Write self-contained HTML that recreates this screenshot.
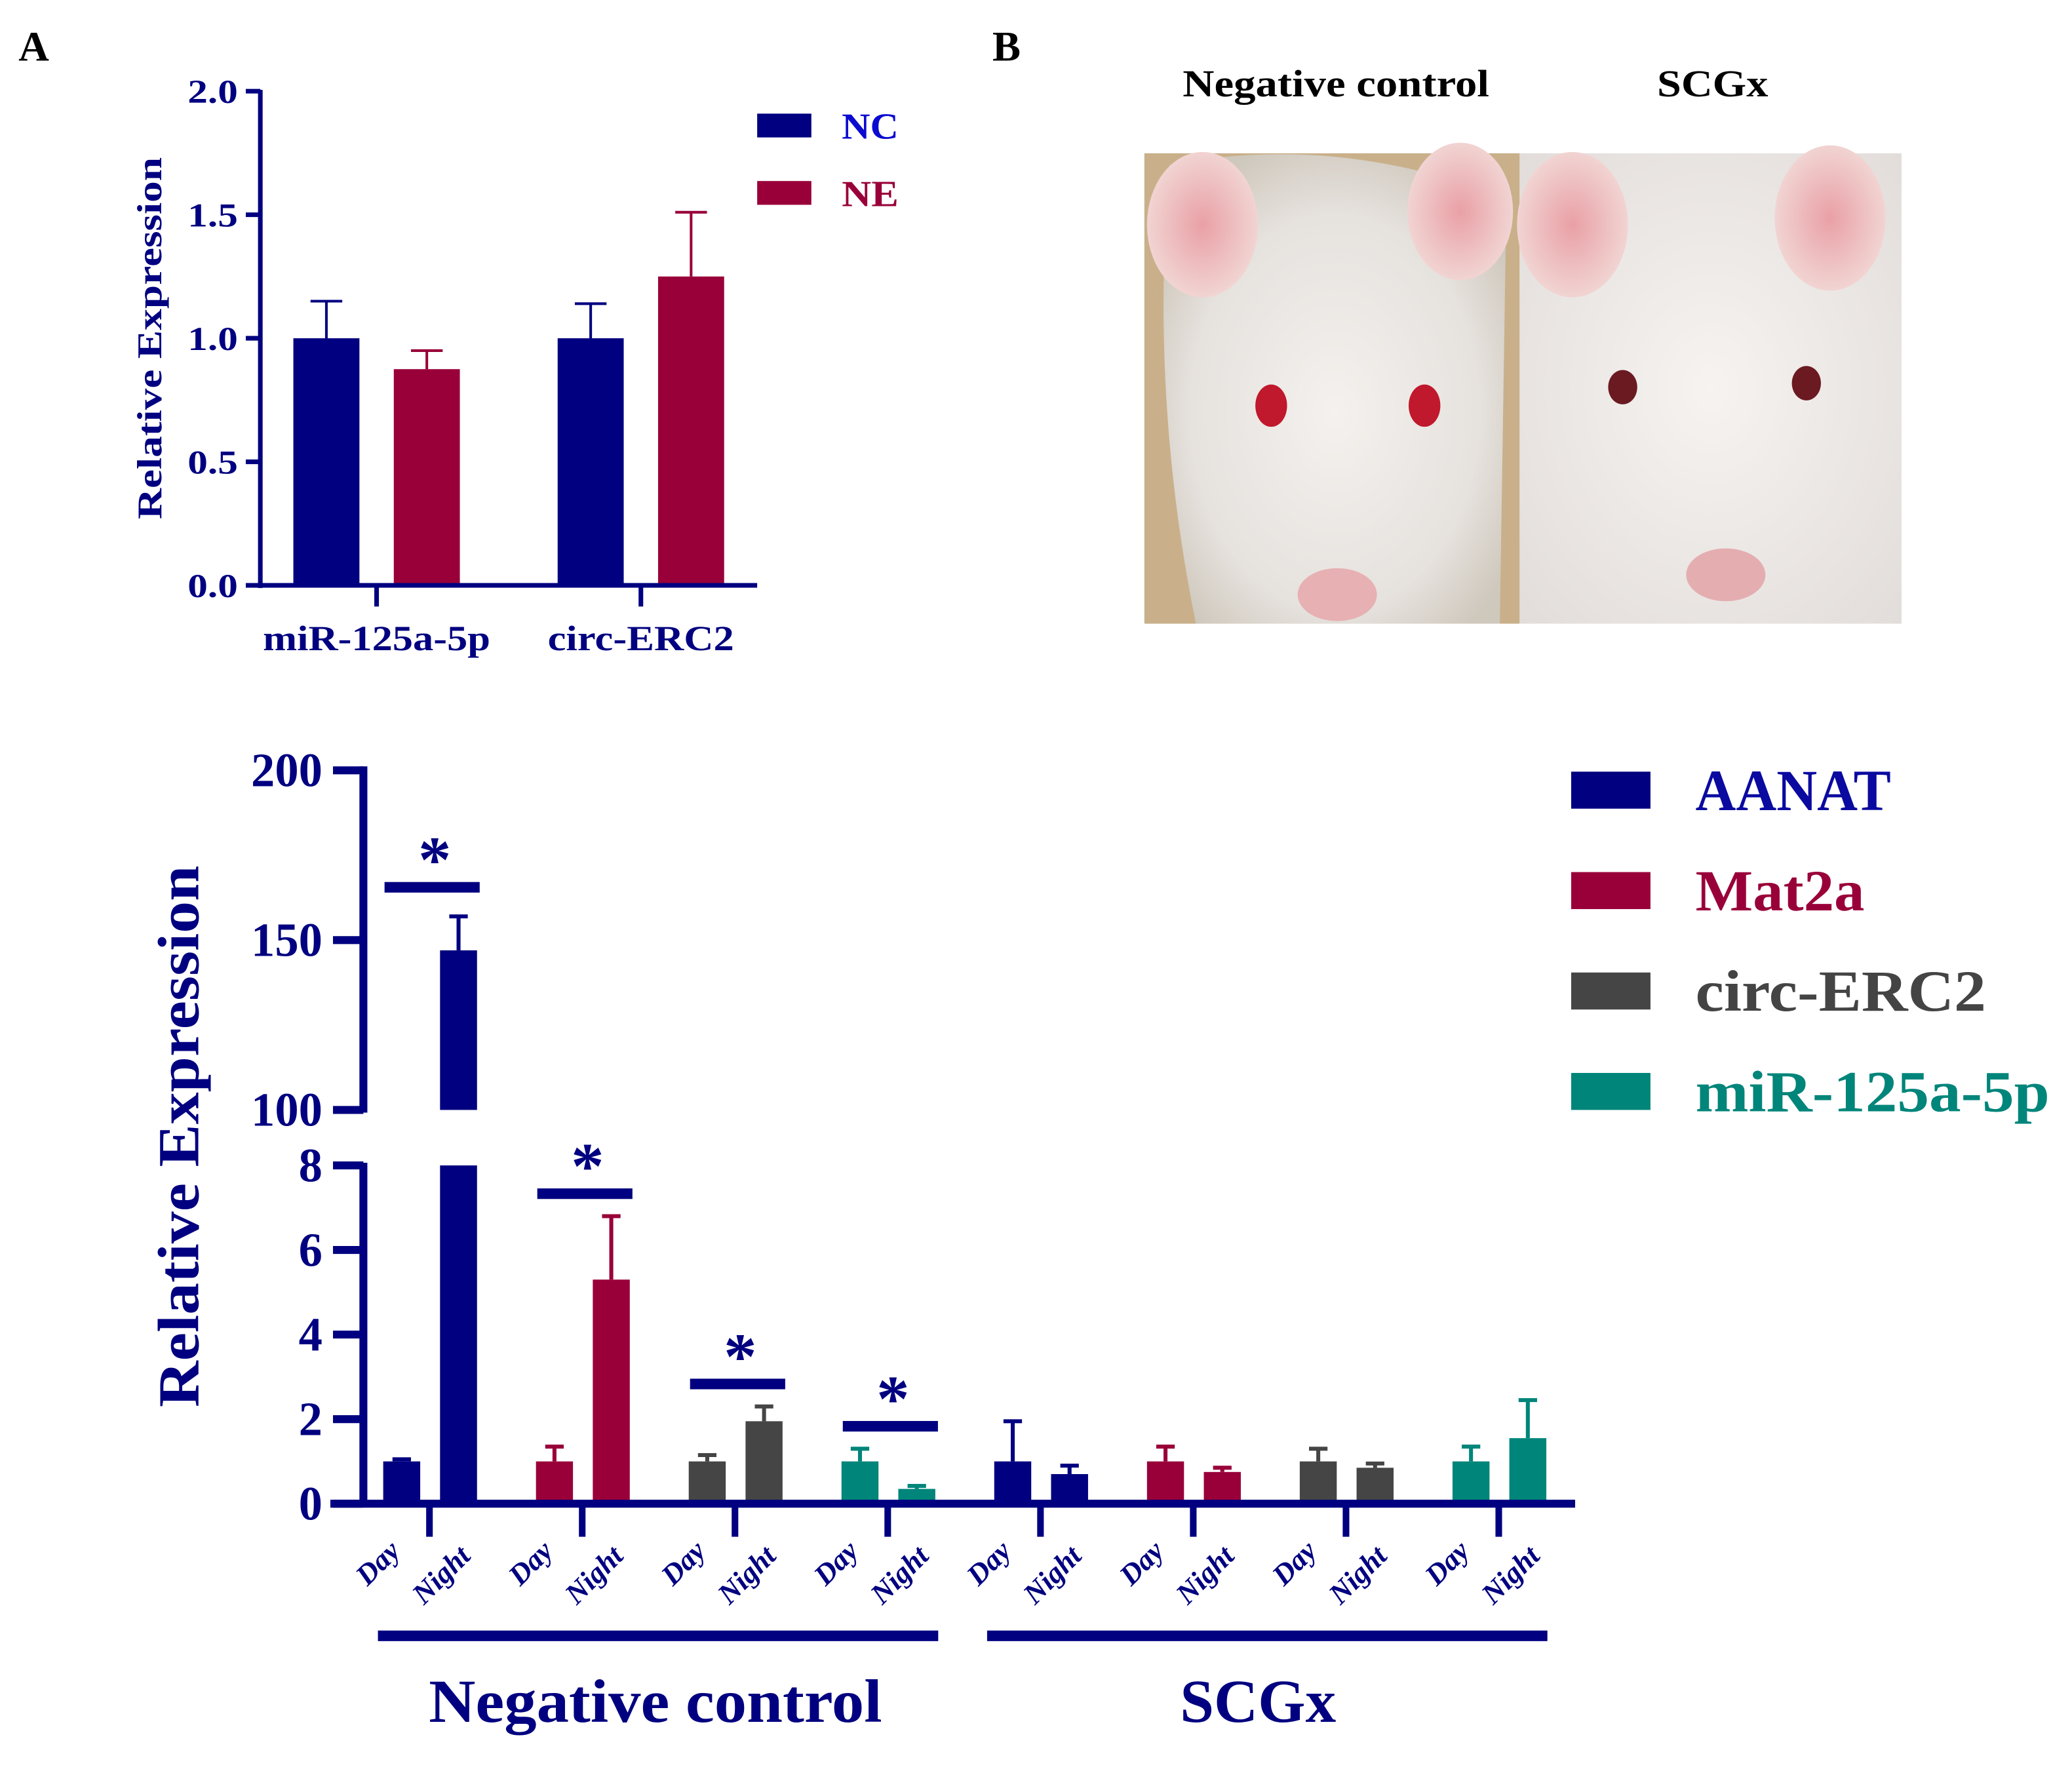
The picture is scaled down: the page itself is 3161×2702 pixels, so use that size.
<!DOCTYPE html>
<html><head><meta charset="utf-8"><style>
html,body{margin:0;padding:0;background:#fff;}
svg{display:block;font-family:"Liberation Serif",serif;font-weight:bold;}
</style></head><body>
<svg width="3161" height="2702" viewBox="0 0 1568 1340.3" preserveAspectRatio="none" xmlns="http://www.w3.org/2000/svg">
<defs>
<radialGradient id="face1" cx="0.5" cy="0.55" r="0.6"><stop offset="0" stop-color="#f4f1ee"/><stop offset="0.7" stop-color="#e6e2de"/><stop offset="1" stop-color="#cfc8bd"/></radialGradient>
<radialGradient id="face2" cx="0.5" cy="0.5" r="0.7"><stop offset="0" stop-color="#f6f3f1"/><stop offset="1" stop-color="#e2ddda"/></radialGradient>
<radialGradient id="ear" cx="0.5" cy="0.5" r="0.5"><stop offset="0" stop-color="#e9a0a6"/><stop offset="1" stop-color="#f1d4d2"/></radialGradient>
</defs>
<text x="14" y="46" font-size="32" fill="#000">A</text>
<text x="751" y="46" font-size="32" fill="#000">B</text>
<g id="chartA"></g>
<g>
<text x="1011" y="73" font-size="29" text-anchor="middle" fill="#000" textLength="232" lengthAdjust="spacingAndGlyphs">Negative control</text>
<text x="1296" y="73" font-size="29" text-anchor="middle" fill="#000" textLength="84" lengthAdjust="spacingAndGlyphs">SCGx</text>
<g>
<rect x="866" y="116" width="284" height="356" fill="#c9b08a"/>
<path d="M885 125 Q1010 100 1140 150 L1135 472 L905 472 Q870 300 885 125Z" fill="url(#face1)"/>
<ellipse cx="910" cy="170" rx="42" ry="55" fill="url(#ear)"/>
<ellipse cx="1105" cy="160" rx="40" ry="52" fill="url(#ear)"/>
<ellipse cx="962" cy="307" rx="12" ry="16" fill="#c0182c"/>
<ellipse cx="1078" cy="307" rx="12" ry="16" fill="#c0182c"/>
<ellipse cx="1012" cy="450" rx="30" ry="20" fill="#e7b0b2"/>
</g>
<g>
<rect x="1150" y="116" width="289" height="356" fill="url(#face2)"/>
<ellipse cx="1190" cy="170" rx="42" ry="55" fill="url(#ear)"/>
<ellipse cx="1385" cy="165" rx="42" ry="55" fill="url(#ear)"/>
<ellipse cx="1228" cy="293" rx="11" ry="13" fill="#6a1a20"/>
<ellipse cx="1367" cy="290" rx="11" ry="13" fill="#6a1a20"/>
<ellipse cx="1306" cy="435" rx="30" ry="20" fill="#e4aeb0"/>
</g>
</g>
<g id="chartB"></g>
</svg>
<script>
const NS="http://www.w3.org/2000/svg";
function mk(parent,tag,attrs,text){const e=document.createElementNS(NS,tag);for(const k in attrs)e.setAttribute(k,attrs[k]);if(text!==undefined)e.textContent=text;parent.appendChild(e);return e;}
const NAVY="#000080",RED="#990039",GRAY="#454545",TEAL="#00857a";

// ---- Chart A data ----
const aCategories=["miR-125a-5p","circ-ERC2"];
const aSeries=["NC","NE"];
const aNC=[1.0,1.0];
const aNCerr=[0.15,0.14];
const aNE=[0.875,1.25];
const aNEerr=[0.075,0.26];
const aTicks=["0.0","0.5","1.0","1.5","2.0"];

const A=document.getElementById("chartA");
const ayA=v=>443-v*187;
const agx=i=>285+i*200;
[[aNC,aNCerr,NAVY,-38],[aNE,aNEerr,RED,38]].forEach(([vals,errs,col,off],s)=>{
 vals.forEach((v,i)=>{
  const cx=agx(i)+off;
  const r=mk(A,"rect",{x:cx-25,y:ayA(v),width:50,height:443-ayA(v),fill:col});
  
  
  const e=mk(A,"path",{d:`M${cx} ${ayA(v)}V${ayA(v+errs[i])}M${cx-12} ${ayA(v+errs[i])}H${cx+12}`,stroke:col,"stroke-width":2,fill:"none"});
  
  
 });
});
mk(A,"path",{d:"M197 68V445M195 443H573",stroke:NAVY,"stroke-width":3.5,fill:"none"});
aTicks.forEach(t=>{const v=parseFloat(t);const y=ayA(v);
 mk(A,"line",{x1:186,x2:197,y1:y,y2:y,stroke:NAVY,"stroke-width":3.5});
 const tx=mk(A,"text",{x:180,y:y+9,"font-size":25,"text-anchor":"end",fill:NAVY,textLength:38,lengthAdjust:"spacingAndGlyphs"},t);
 
 
});
const aLabLen=[172,141];
aCategories.forEach((c,i)=>{
 mk(A,"line",{x1:agx(i),x2:agx(i),y1:443,y2:459,stroke:NAVY,"stroke-width":3.5});
 const tx=mk(A,"text",{x:agx(i),y:492,"font-size":27,"text-anchor":"middle",fill:NAVY,textLength:aLabLen[i],lengthAdjust:"spacingAndGlyphs"},c);
 
 
});
const ta=mk(A,"text",{x:0,y:0,"font-size":26,"text-anchor":"middle",fill:NAVY,transform:"translate(122,256) rotate(-90)",textLength:274,lengthAdjust:"spacingAndGlyphs"},"Relative Expression");


[[NAVY,"NC","#0a0ad0",95],[RED,"NE",RED,146]].forEach(([c,l,tc,y])=>{
 const r=mk(A,"rect",{x:573,y:y-9,width:41,height:18,fill:c});
 
 
 const t=mk(A,"text",{x:637,y:y+10,"font-size":28,fill:tc,textLength:43,lengthAdjust:"spacingAndGlyphs"},l);
 
 
});

// ---- Chart B data ----
const bGenes=["AANAT","Mat2a","circ-ERC2","miR-125a-5p"];
const bGroups=["Negative control","SCGx"];
const bDay=[1.0,1.0,1.0,1.0, 1.0,1.0,1.0,1.0];
const bDayErr=[0.05,0.35,0.15,0.3, 0.95,0.35,0.3,0.35];
const bNight=[147,5.3,1.95,0.35, 0.7,0.75,0.85,1.55];
const bNightErr=[10,1.5,0.35,0.07, 0.2,0.1,0.1,0.9];
const bSig=[true,true,true,true,false,false,false,false];
const bTicksLow=[0,2,4,6,8];
const bTicksHigh=[100,150,200];

const B=document.getElementById("chartB");
const colors=[NAVY,RED,GRAY,TEAL];
const legendText=["#0a0aa0",RED,"#444",TEAL];
const legendLen=[148,128,220,268];
function yB(v){ if(v<=8) return 1138-v*32; return 840-(v-100)*2.57; }
const gx=i=>325+i*115.6;
for(let i=0;i<8;i++){
 const col=colors[i%4];
 const dx=gx(i)-21, nx=gx(i)+22;
 const d=mk(B,"rect",{x:dx-14,y:yB(bDay[i]),width:28,height:1138-yB(bDay[i]),fill:col});
 
 
 const de=bDay[i]+bDayErr[i];
 mk(B,"path",{d:`M${dx} ${yB(bDay[i])}V${yB(de)}M${dx-7} ${yB(de)}H${dx+7}`,stroke:col,"stroke-width":3,fill:"none"});
 const nv=bNight[i];
 if(nv>8){
  const n1=mk(B,"rect",{x:nx-14,y:yB(8),width:28,height:1138-yB(8),fill:col});
  
  
  const n2=mk(B,"rect",{x:nx-14,y:yB(nv),width:28,height:840-yB(nv),fill:col});
  
  
 } else {
  const n=mk(B,"rect",{x:nx-14,y:yB(nv),width:28,height:1138-yB(nv),fill:col});
  
  
 }
 const ne=nv+bNightErr[i];
 mk(B,"path",{d:`M${nx} ${yB(nv)}V${yB(ne)}M${nx-7} ${yB(ne)}H${nx+7}`,stroke:col,"stroke-width":3,fill:"none"});
 if(bSig[i]){
  const top=Math.max(bDay[i]+bDayErr[i],ne);
  const ys=yB(top)-(i===0?22:17);
  const s=mk(B,"rect",{x:gx(i)-34,y:ys-4,width:72,height:8,fill:NAVY});
  
  
  const st=mk(B,"text",{x:gx(i)+4,y:ys-4,"font-size":50,"text-anchor":"middle",fill:NAVY},"*");
  
  
 }
 mk(B,"line",{x1:gx(i),x2:gx(i),y1:1138,y2:1163,stroke:NAVY,"stroke-width":5});
 const t1=mk(B,"text",{x:0,y:0,"font-size":22,"font-style":"italic","text-anchor":"middle",fill:NAVY,transform:`translate(${gx(i)-34},${1188}) rotate(-45)`},"Day");
 
 
 const t2=mk(B,"text",{x:0,y:0,"font-size":22,"font-style":"italic","text-anchor":"middle",fill:NAVY,transform:`translate(${gx(i)+14},${1197}) rotate(-45)`},"Night");
 
 
}
mk(B,"path",{d:"M275 580V842M275 880V1141M250 1138H1192",stroke:NAVY,"stroke-width":6,fill:"none"});
bTicksLow.concat(bTicksHigh).forEach(v=>{
 const y=yB(v);
 mk(B,"line",{x1:252,x2:275,y1:y,y2:y,stroke:NAVY,"stroke-width":6});
 const t=mk(B,"text",{x:244,y:y+12,"font-size":36,"text-anchor":"end",fill:NAVY},String(v));
 
 
});
const tb=mk(B,"text",{x:0,y:0,"font-size":44,"text-anchor":"middle",fill:NAVY,transform:"translate(150,860) rotate(-90)",textLength:410,lengthAdjust:"spacingAndGlyphs"},"Relative Expression");


const gLen=[343,118];
[[286,710,496],[747,1171,952]].forEach(([a,b,c],k)=>{
 const r=mk(B,"rect",{x:a,y:1234,width:b-a,height:8,fill:NAVY});
 
 
 const t=mk(B,"text",{x:c,y:1303,"font-size":46,"text-anchor":"middle",fill:NAVY,textLength:gLen[k],lengthAdjust:"spacingAndGlyphs"},bGroups[k]);
 
 
});
bGenes.forEach((g,k)=>{
 const y=598+k*76;
 const r=mk(B,"rect",{x:1189,y:y-14,width:60,height:28,fill:colors[k]});
 
 
 const t=mk(B,"text",{x:1283,y:y+15,"font-size":44,fill:legendText[k],textLength:legendLen[k],lengthAdjust:"spacingAndGlyphs"},g);
 
 
});
</script>
</body></html>
